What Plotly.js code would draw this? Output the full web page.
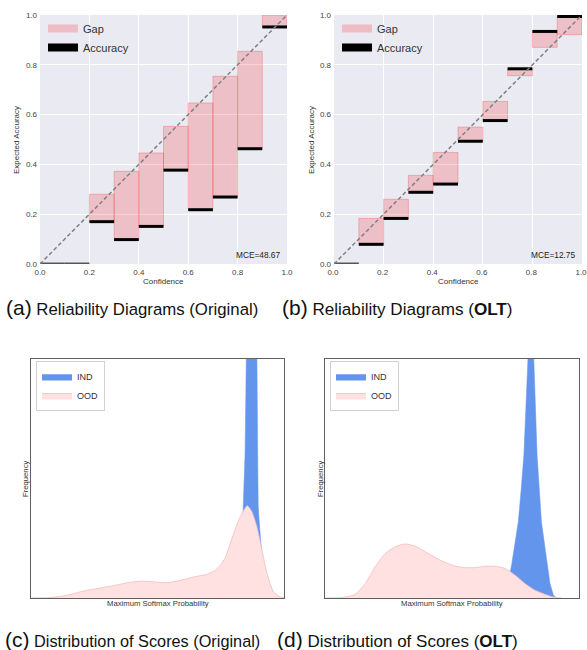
<!DOCTYPE html>
<html><head><meta charset="utf-8">
<script src="https://cdn.plot.ly/plotly-3.0.1.min.js"></script>
<style>html,body{margin:0;padding:0;background:#fff}#chart{width:587px;height:650px}</style>
</head><body><div id="chart"></div>
<script>
// ---------- data ----------
const binLeft = [0.0, 0.1, 0.2, 0.3, 0.4, 0.5, 0.6, 0.7, 0.8, 0.9];
const binWidth = 0.1;
const accOriginal  = [0, 0, 0.170, 0.098, 0.151, 0.377, 0.218, 0.269, 0.463, 0.952];
const confOriginal = [0, 0, 0.280, 0.372, 0.446, 0.553, 0.647, 0.754, 0.854, 1.000];
const accOLT  = [0, 0.079, 0.183, 0.288, 0.321, 0.493, 0.576, 0.784, 0.934, 0.994];
const confOLT = [0, 0.183, 0.260, 0.356, 0.448, 0.550, 0.653, 0.756, 0.870, 0.921];
const mceOriginal = 'MCE=48.67';
const mceOLT = 'MCE=12.75';
const diagX = [0, 1];
const diagY = [0, 1];

// KDE curves of maximum softmax probability (x normalised to plot width, y to plot height)
const indOrigX = [0.80, 0.815, 0.825, 0.833, 0.839, 0.846, 0.851, 0.860, 0.872, 0.884, 0.893, 0.896, 0.898, 0.902, 0.908, 0.915, 0.925, 0.940, 0.955];
const indOrigY = [0.00, 0.03, 0.08, 0.20, 0.389, 0.598, 1.00, 1.60, 2.00, 1.60, 1.00, 0.598, 0.389, 0.318, 0.234, 0.15, 0.07, 0.02, 0.00];
const oodOrigX = [0.000, 0.075, 0.141, 0.220, 0.313, 0.392, 0.431, 0.471, 0.537, 0.590, 0.642, 0.695, 0.728, 0.748, 0.767, 0.774, 0.801, 0.827, 0.855, 0.873, 0.893, 0.913, 0.933, 0.959, 0.985, 1.000];
const oodOrigY = [0.000, 0.002, 0.011, 0.032, 0.049, 0.066, 0.070, 0.069, 0.064, 0.074, 0.088, 0.099, 0.116, 0.137, 0.167, 0.186, 0.270, 0.340, 0.386, 0.361, 0.298, 0.200, 0.102, 0.025, 0.004, 0.000];
const indOLTX = [0.700, 0.715, 0.735, 0.750, 0.761, 0.772, 0.783, 0.799, 0.810, 0.822, 0.835, 0.852, 0.873, 0.886, 0.899, 0.910];
const indOLTY = [0.000, 0.030, 0.140, 0.240, 0.319, 0.450, 0.598, 1.000, 1.150, 1.000, 0.598, 0.319, 0.152, 0.060, 0.0125, 0.000];
const oodOLTX = [0.000, 0.066, 0.118, 0.158, 0.197, 0.237, 0.276, 0.315, 0.355, 0.407, 0.460, 0.512, 0.552, 0.591, 0.631, 0.670, 0.710, 0.749, 0.788, 0.828, 0.867, 0.900, 0.930];
const oodOLTY = [0.000, 0.002, 0.015, 0.060, 0.130, 0.186, 0.214, 0.226, 0.217, 0.186, 0.155, 0.134, 0.127, 0.127, 0.133, 0.133, 0.123, 0.095, 0.060, 0.032, 0.015, 0.004, 0.000];

// ---------- layout helpers ----------
const W = 587, H = 650;
const px = v => v / W;
const py = v => 1 - v / H;
const FONT = 'Liberation Sans, Arial, Helvetica, sans-serif';
const GAP_FILL = 'rgba(255,0,0,0.18)';
const GAP_EDGE = 'rgba(235,40,40,0.26)';

function relTraces(acc, conf, xa, ya, leg) {
  const centers = binLeft.map(b => b + binWidth / 2);
  const gapBase = acc.map((a, i) => Math.min(a, conf[i]));
  const gapH = acc.map((a, i) => Math.abs(conf[i] - a));
  return [
    {type: 'bar', x: centers, y: gapH, base: gapBase, width: binWidth, xaxis: xa, yaxis: ya,
     marker: {color: GAP_FILL, line: {color: GAP_EDGE, width: 1}}, showlegend: false, hoverinfo: 'skip'},
    {type: 'bar', x: centers, y: acc.map(() => 0.012), base: acc.map(a => a - 0.006), width: binWidth,
     xaxis: xa, yaxis: ya, marker: {color: acc.map(a => a > 0 ? '#000' : '#555'), line: {width: 0}}, showlegend: false, hoverinfo: 'skip'},
    {type: 'scatter', mode: 'lines', x: diagX, y: diagY, xaxis: xa, yaxis: ya,
     line: {color: '#808080', width: 1.5, dash: '4px,2.5px'}, showlegend: false, hoverinfo: 'skip'},
    {type: 'scatter', mode: 'lines', x: [null], y: [null], xaxis: xa, yaxis: ya, name: 'Gap', legend: leg,
     line: {color: 'rgba(240,150,160,0.55)', width: 8}},
    {type: 'scatter', mode: 'lines', x: [null], y: [null], xaxis: xa, yaxis: ya, name: 'Accuracy', legend: leg,
     line: {color: '#000', width: 8}}
  ];
}
function kdeTraces(ix, iy, ox, oy, xa, ya, leg) {
  return [
    {type: 'scatter', mode: 'lines', x: ix, y: iy, xaxis: xa, yaxis: ya, fill: 'tozeroy', name: 'IND', legend: leg,
     fillcolor: '#6495ED', line: {color: '#6495ED', width: 0.5}, hoverinfo: 'skip'},
    {type: 'scatter', mode: 'lines', x: ox, y: oy, xaxis: xa, yaxis: ya, fill: 'tozeroy', name: 'OOD', legend: leg,
     fillcolor: '#FFE1E1', line: {color: '#F3BDBD', width: 0.8, shape: 'spline', smoothing: 0.6}, hoverinfo: 'skip'}
  ];
}

const data = [].concat(
  relTraces(accOriginal, confOriginal, 'x', 'y', 'legend'),
  relTraces(accOLT, confOLT, 'x2', 'y2', 'legend2'),
  kdeTraces(indOrigX, indOrigY, oodOrigX, oodOrigY, 'x3', 'y3', 'legend3'),
  kdeTraces(indOLTX, indOLTY, oodOLTX, oodOLTY, 'x4', 'y4', 'legend4')
);

const relX = (d) => ({domain: d, range: [0, 1], tickmode: 'linear', tick0: 0, dtick: 0.2, tickformat: '.1f',
  showgrid: true, gridcolor: '#fff', gridwidth: 1, zeroline: false, showline: false, ticks: '',
  ticklabeloverflow: 'allow', automargin: false,
  tickfont: {size: 8, color: '#444', family: FONT}, fixedrange: true});
const relY = (d, anchor) => Object.assign(relX(d), {anchor: anchor, ticklabelstandoff: 2});
const kdeAx = (d, anchor) => ({domain: d, range: [0, 1], anchor: anchor, showgrid: false, zeroline: false,
  showticklabels: false, ticks: '', showline: true, mirror: true, linecolor: '#606060', linewidth: 1.3, fixedrange: true});

const topY = [py(264), py(15)];
const botY = [py(598), py(359)];
const legTop = (x, y) => ({x: px(x), y: py(y), xanchor: 'left', yanchor: 'top', bgcolor: 'rgba(0,0,0,0)', borderwidth: 0,
  font: {size: 11, color: '#333', family: FONT}, itemwidth: 30, tracegroupgap: 0});
const legBot = (x, y) => ({x: px(x), y: py(y), xanchor: 'left', yanchor: 'top', bgcolor: '#fff', bordercolor: '#d0d0d0', borderwidth: 1,
  font: {size: 9, color: '#333', family: FONT}, itemwidth: 30, tracegroupgap: 0});
const cap = (x, y, label, body, size) => ({xref: 'paper', yref: 'paper', x: px(x), y: py(y),
  text: '<span style="font-size:21px">' + label + '</span> ' + body, showarrow: false,
  xanchor: 'left', yanchor: 'middle', font: {size: size, color: '#111', family: FONT}});

const layout = {
  width: W, height: H, margin: {l: 0, r: 0, t: 0, b: 0},
  paper_bgcolor: '#fff', plot_bgcolor: '#EAEAF2',
  font: {family: FONT, color: '#333'},
  barmode: 'overlay', showlegend: true,
  xaxis: Object.assign(relX([px(40), px(287)]), {anchor: 'y', ticklabelstandoff: 2}),
  yaxis: relY(topY, 'x'),
  xaxis2: Object.assign(relX([px(334), px(582)]), {anchor: 'y2', ticklabelstandoff: 2, ticklabelshift: -1}),
  yaxis2: relY(topY, 'x2'),
  xaxis3: kdeAx([px(31), px(284)], 'y3'),
  yaxis3: kdeAx(botY, 'x3'),
  xaxis4: kdeAx([px(325), px(579)], 'y4'),
  yaxis4: kdeAx(botY, 'x4'),
  shapes: [
    {type: 'rect', xref: 'x3 domain', yref: 'y3 domain', x0: 0, x1: 1, y0: 0, y1: 1, fillcolor: '#fff', line: {width: 0}, layer: 'below'},
    {type: 'rect', xref: 'x4 domain', yref: 'y4 domain', x0: 0, x1: 1, y0: 0, y1: 1, fillcolor: '#fff', line: {width: 0}, layer: 'below'}
  ],
  legend: legTop(43, 14),
  legend2: legTop(337, 14),
  legend3: legBot(36, 361),
  legend4: legBot(330, 361),
  annotations: [
    {xref: 'x', yref: 'y', x: 0.98, y: 0.036, text: mceOriginal, showarrow: false, xanchor: 'right', yanchor: 'middle', font: {size: 8.3, color: '#222'}},
    {xref: 'x2', yref: 'y2', x: 0.98, y: 0.036, text: mceOLT, showarrow: false, xanchor: 'right', yanchor: 'middle', font: {size: 8.3, color: '#222'}},
    {xref: 'paper', yref: 'paper', x: px(163.5), y: py(282), text: 'Confidence', showarrow: false, xanchor: 'center', yanchor: 'middle', font: {size: 8, color: '#333'}},
    {xref: 'paper', yref: 'paper', x: px(458), y: py(282), text: 'Confidence', showarrow: false, xanchor: 'center', yanchor: 'middle', font: {size: 8, color: '#333'}},
    {xref: 'paper', yref: 'paper', x: px(16), y: py(140), text: 'Expected Accuracy', textangle: -90, showarrow: false, xanchor: 'center', yanchor: 'middle', font: {size: 8, color: '#333'}},
    {xref: 'paper', yref: 'paper', x: px(311), y: py(140), text: 'Expected Accuracy', textangle: -90, showarrow: false, xanchor: 'center', yanchor: 'middle', font: {size: 8, color: '#333'}},
    {xref: 'paper', yref: 'paper', x: px(157.5), y: py(603), text: 'Maximum Softmax Probability', showarrow: false, xanchor: 'center', yanchor: 'middle', font: {size: 7.7, color: '#333'}},
    {xref: 'paper', yref: 'paper', x: px(452), y: py(603), text: 'Maximum Softmax Probability', showarrow: false, xanchor: 'center', yanchor: 'middle', font: {size: 7.7, color: '#333'}},
    {xref: 'paper', yref: 'paper', x: px(25), y: py(479), text: 'Frequency', textangle: -90, showarrow: false, xanchor: 'center', yanchor: 'middle', font: {size: 7.7, color: '#333'}},
    {xref: 'paper', yref: 'paper', x: px(320), y: py(479), text: 'Frequency', textangle: -90, showarrow: false, xanchor: 'center', yanchor: 'middle', font: {size: 7.7, color: '#333'}},
    cap(4, 307, '(a)', 'Reliability Diagrams (Original)', 16.8),
    cap(280, 307, '(b)', 'Reliability Diagrams (<b>OLT</b>)', 17.1),
    cap(3, 639, '(c)', 'Distribution of Scores (Original)', 16.3),
    cap(275, 639, '(d)', 'Distribution of Scores (<b>OLT</b>)', 17.0)
  ]
};

Plotly.newPlot('chart', data, layout, {displayModeBar: false, staticPlot: true});
</script></body></html>
